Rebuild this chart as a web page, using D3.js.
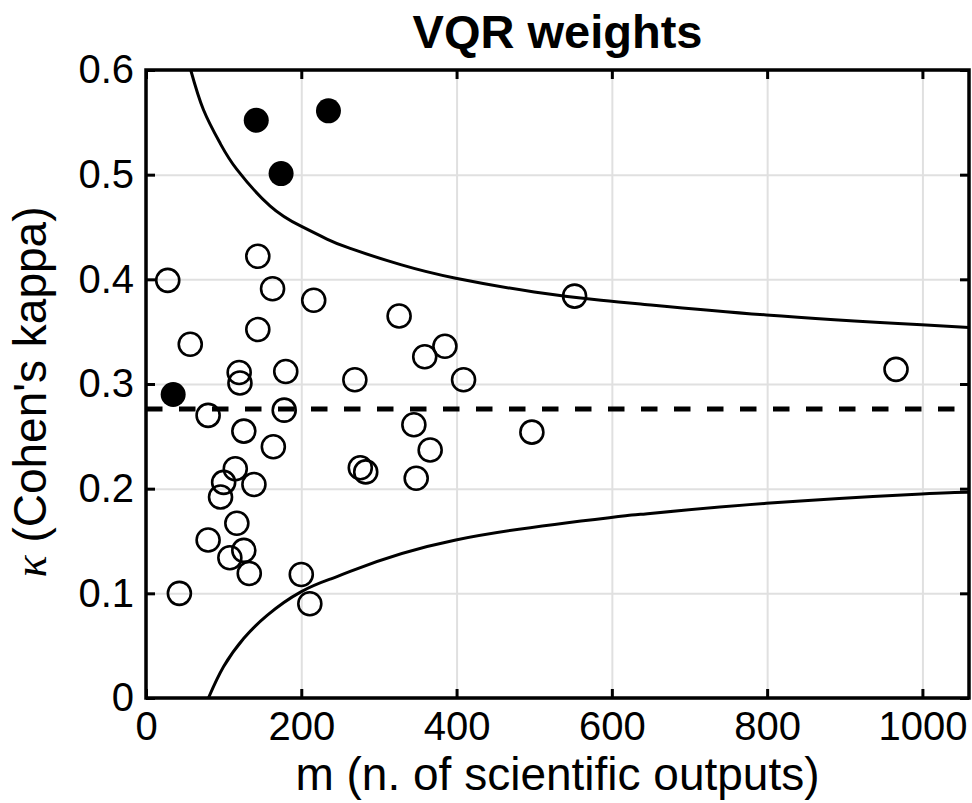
<!DOCTYPE html>
<html>
<head>
<meta charset="utf-8">
<script src="https://cdn.jsdelivr.net/npm/d3@7"></script>
<style>
  body { margin: 0; background: #fff; }
  text { font-family: "Liberation Sans", Arial, Helvetica, sans-serif; fill: #000; }
</style>
</head>
<body>
<div id="vis"></div>
<script>
// axis ticks
const xTicks = [0, 200, 400, 600, 800, 1000];
const yTicks = [0, 0.1, 0.2, 0.3, 0.4, 0.5, 0.6];
const yTickLabels = ['0', '0.1', '0.2', '0.3', '0.4', '0.5', '0.6'];
const xMax = 1060;

// mean kappa (dashed line)
const meanKappa = 0.276;

// [m, kappa] open circles
const openPoints = [
  [28, 0.399], [57, 0.338], [144, 0.422], [163, 0.391], [144, 0.352],
  [216, 0.380], [326, 0.365], [120, 0.311], [121, 0.301], [180, 0.312],
  [269, 0.304], [359, 0.326], [385, 0.336], [409, 0.304], [80, 0.270],
  [178, 0.275], [126, 0.255], [164, 0.240], [345, 0.261], [366, 0.237],
  [276, 0.220], [283, 0.216], [348, 0.210], [115, 0.219], [100, 0.206],
  [96, 0.192], [139, 0.204], [117, 0.167], [80, 0.151], [108, 0.134],
  [126, 0.141], [133, 0.119], [43, 0.100], [200, 0.118], [211, 0.090],
  [497, 0.254], [552, 0.384], [966, 0.314]
];

// [m, kappa] filled circles
const filledPoints = [
  [142, 0.552], [235, 0.561], [174, 0.501], [35, 0.290]
];

// bound curves
const upperBound = [
  [57.6, 0.600], [74, 0.562], [95.5, 0.530], [117, 0.505], [160, 0.470],
  [199, 0.451], [233, 0.4385], [263, 0.4295], [328, 0.414], [399, 0.401],
  [500, 0.388], [586, 0.380], [637, 0.3765], [799, 0.366], [999, 0.3565],
  [1060, 0.354]
];
const lowerBound = [
  [80.4, 0.000], [100, 0.030], [126, 0.057], [156, 0.079], [199, 0.1012],
  [237, 0.1135], [263, 0.121], [399, 0.151], [599, 0.1725], [637, 0.1755],
  [799, 0.186], [999, 0.195], [1060, 0.1965]
];

const margin = {top: 70, right: 3, bottom: 105, left: 146};
const totalWidth = 972;
const totalHeight = 803;
const width = totalWidth - margin.left - margin.right;
const height = totalHeight - margin.top - margin.bottom;

const svg = d3.select('#vis').append('svg')
    .attr('width', totalWidth)
    .attr('height', totalHeight);

const g = svg.append('g')
    .attr('transform', `translate(${margin.left}, ${margin.top})`);

const x = d3.scaleLinear()
    .domain([0, xMax])
    .range([0, width]);

const y = d3.scaleLinear()
    .domain([0, 0.6])
    .range([height, 0]);

// grid
g.append('g')
    .attr('class', 'grid')
    .attr('transform', `translate(0, ${height})`)
    .call(d3.axisBottom(x).tickValues(xTicks).tickSize(-height).tickFormat(''))
    .call(s => s.select('.domain').remove());

g.append('g')
    .attr('class', 'grid')
    .call(d3.axisLeft(y).tickValues(yTicks).tickSize(-width).tickFormat(''))
    .call(s => s.select('.domain').remove());

// clip for curves
svg.append('clipPath')
    .attr('id', 'plot-clip')
  .append('rect')
    .attr('width', width)
    .attr('height', height);

const line = d3.line()
    .x(d => x(d[0]))
    .y(d => y(d[1]))
    .curve(d3.curveNatural);

const curves = g.append('g').attr('clip-path', 'url(#plot-clip)');

curves.selectAll('.bound')
  .data([upperBound, lowerBound])
  .join('path')
    .attr('class', 'bound')
    .attr('d', line)
    .attr('fill', 'none')
    .attr('stroke', '#000')
    .attr('stroke-width', 3);

curves.append('line')
    .attr('x1', x(0))
    .attr('x2', x(xMax))
    .attr('y1', y(meanKappa))
    .attr('y2', y(meanKappa))
    .attr('stroke', '#000')
    .attr('stroke-width', 5)
    .attr('stroke-dasharray', '16.5 16.5');

// points
g.selectAll('.open')
  .data(openPoints)
  .join('circle')
    .attr('class', 'open')
    .attr('cx', d => x(d[0]))
    .attr('cy', d => y(d[1]))
    .attr('r', 11.5)
    .attr('fill', 'none')
    .attr('stroke', '#000')
    .attr('stroke-width', 2.6);

g.selectAll('.filled')
  .data(filledPoints)
  .join('circle')
    .attr('class', 'filled')
    .attr('cx', d => x(d[0]))
    .attr('cy', d => y(d[1]))
    .attr('r', 12.5)
    .attr('fill', '#000');

// axes with inward ticks on all four sides
const tickLen = 9;

g.append('g')
    .attr('class', 'axis')
    .attr('transform', `translate(0, ${height})`)
    .call(d3.axisBottom(x).tickValues(xTicks).tickSizeInner(-tickLen).tickSizeOuter(0).tickPadding(14).tickFormat(d3.format('d')));

g.append('g')
    .attr('class', 'axis')
    .call(d3.axisLeft(y).tickValues(yTicks).tickSizeInner(-tickLen).tickSizeOuter(0).tickPadding(12)
      .tickFormat((d, i) => yTickLabels[i]));

g.append('g')
    .attr('class', 'axis')
    .call(d3.axisTop(x).tickValues(xTicks).tickSizeInner(-tickLen).tickSizeOuter(0).tickFormat(''));

g.append('g')
    .attr('class', 'axis')
    .attr('transform', `translate(${width}, 0)`)
    .call(d3.axisRight(y).tickValues(yTicks).tickSizeInner(-tickLen).tickSizeOuter(0).tickFormat(''));

g.selectAll('.domain').remove();
g.selectAll('.axis .tick line')
    .attr('stroke', '#000')
    .attr('stroke-width', 3);
g.selectAll('.grid .tick line')
    .attr('stroke', '#e0e0e0')
    .attr('stroke-width', 2);

g.selectAll('.axis .tick text')
    .attr('font-size', 40)
    .attr('font-family', '"Liberation Sans", Arial, sans-serif');

g.append('rect')
    .attr('width', width)
    .attr('height', height)
    .attr('fill', 'none')
    .attr('stroke', '#000')
    .attr('stroke-width', 3.5);

// labels
svg.append('text')
    .attr('x', margin.left + width / 2)
    .attr('y', 48)
    .attr('text-anchor', 'middle')
    .attr('font-size', 47)
    .attr('font-weight', 'bold')
    .text('VQR weights');

svg.append('text')
    .attr('x', margin.left + width / 2)
    .attr('y', 790)
    .attr('text-anchor', 'middle')
    .attr('font-size', 46)
    .text('m (n. of scientific outputs)');

const yLabel = svg.append('text')
    .attr('transform', `translate(46, ${margin.top + height / 2 + 8}) rotate(-90)`)
    .attr('text-anchor', 'middle')
    .attr('font-size', 46);

yLabel.append('tspan')
    .attr('font-style', 'italic')
    .attr('font-family', '"Liberation Serif", serif')
    .text('κ');
yLabel.append('tspan')
    .text(' (Cohen\'s kappa)');
</script>
</body>
</html>
